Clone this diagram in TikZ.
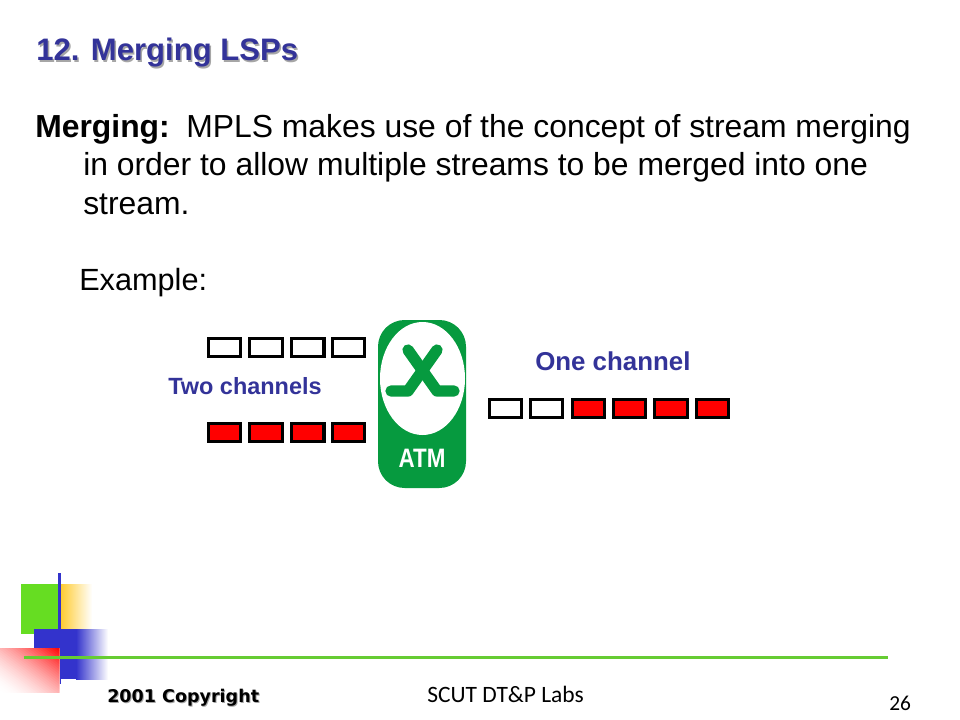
\documentclass[tikz,border=0pt]{standalone}
\usepackage{fontspec}
\setmainfont{Liberation Sans}
\newfontfamily\verd{DejaVu Sans}
\newfontfamily\hand{Carlito}
\definecolor{navy}{HTML}{333399}
\definecolor{atmgreen}{HTML}{069A3F}
\definecolor{leaf}{HTML}{66DD22}
\definecolor{linegreen}{HTML}{66CC33}
\definecolor{amber}{HTML}{FFCC33}
\definecolor{royal}{HTML}{3333CC}
\tikzset{
  txt/.style={inner sep=0pt,anchor=base west,font=\fontsize{23.9pt}{23.9pt}\selectfont},
  ttl/.style={inner sep=0pt,anchor=base west,text=navy,font=\fontsize{23.3pt}{23.3pt}\selectfont\bfseries},
  sdw/.style={inner sep=0pt,anchor=base west,text=black!35,font=\fontsize{23.3pt}{23.3pt}\selectfont\bfseries},
  lbl/.style={inner sep=0pt,anchor=base west,text=navy,font=\fontsize{17.6pt}{17.6pt}\selectfont\bfseries},
  cell/.style={draw=black,line width=2.5pt,fill=white},
  redcell/.style={cell,fill=red},
  xleg/.style={atmgreen,line width=8.5pt,line cap=round,line join=round},
}
\begin{document}
\begin{tikzpicture}[x=0.75pt,y=-0.75pt]
\useasboundingbox[fill=white] (0,0) rectangle (960,720);
% title and body
\node[sdw] at (37.5,62.5) {12. Merging LSPs};
\node[ttl] (title) at (36,61) {12. Merging LSPs};
\node[txt,font=\fontsize{23.9pt}{23.9pt}\selectfont\bfseries] (mlab) at (35,138) {Merging:};
\node[txt] (l1) at (186,138) {MPLS makes use of the concept of stream merging};
\node[txt] (l2) at (83,176) {in order to allow multiple streams to be merged into one};
\node[txt] (l3) at (83,215) {stream.};
\node[txt,font=\fontsize{23pt}{23pt}\selectfont] (ex) at (79,291) {Example:};
% cells
\foreach \n/\a/\b in {1/208.5/240.5,2/249.5/282.5,3/291.5/324,4/332.5/364.5}{
  \draw[cell] (\a,338.5) rectangle (\b,356.5);
  \draw[redcell] (\a,423.5) rectangle (\b,441.5);
}
\foreach \a/\b in {489.5/521.5,530.5/562.5}{
  \draw[cell] (\a,399.5) rectangle (\b,417.5);
}
\foreach \a/\b in {572.5/604.5,613.5/645.5,654.5/687.5,696.5/728.5}{
  \draw[redcell] (\a,399.5) rectangle (\b,417.5);
}
\node[lbl] (two) at (168,394) {Two channels};
\node[lbl,font=\fontsize{19.4pt}{19.4pt}\selectfont\bfseries] (one) at (535,370) {One channel};
% ATM
\fill[atmgreen,rounded corners=20pt] (378,320) rectangle (466,488);
\fill[white] (422.5,378.5) ellipse [x radius=42.5,y radius=56.5];
\draw[xleg] (391,391) -- (408,391) -- (437,350);
\draw[xleg] (454,391) -- (437,391) -- (408,350);
\node[inner sep=0pt,text=white,xscale=.84,font=\fontsize{20pt}{20pt}\selectfont\bfseries] (atm) at (422,458.5) {ATM};
% footer ornament
\fill[leaf] (21,584) rectangle (58,634);
\shade[left color=amber,right color=white] (61,584) rectangle (92,634);
\fill[royal] (34,629) rectangle (76,679);
\shade[left color=royal,right color=white] (76,629) rectangle (108,679);
\fill[royal] (58,573) rectangle (61,684);
\begin{scope}
  \clip (0,648) rectangle (59,692);
  \fill[white] (0,648) rectangle (59,692);
  \foreach \k in {0,...,35}{
    \pgfmathsetmacro{\s}{-5.8+2*\k}
    \pgfmathsetmacro{\p}{100*pow(\k/35,1.7)}
    \fill[red!\p!white,rotate around={53:(29.5,670)}] (\s,600) rectangle (80,740);
  }
\end{scope}
\fill[linegreen] (24,655.5) rectangle (888,658.5);
% footer text
\node[inner sep=0pt,anchor=base west,text=black!35,font=\fontsize{13.15pt}{13.15pt}\selectfont\verd\bfseries] at (108,703) {2001 Copyright};
\node[inner sep=0pt,anchor=base west,font=\fontsize{13.15pt}{13.15pt}\selectfont\verd\bfseries] (copy) at (107,702) {2001 Copyright};
\node[inner sep=0pt,anchor=base west,font=\fontsize{17.6pt}{17.6pt}\selectfont\hand] (lab) at (427,702) {SCUT DT\&P Labs};
\node[inner sep=0pt,anchor=base west,font=\fontsize{16pt}{16pt}\selectfont\hand] (pg) at (889,710) {26};
\end{tikzpicture}
\end{document}
